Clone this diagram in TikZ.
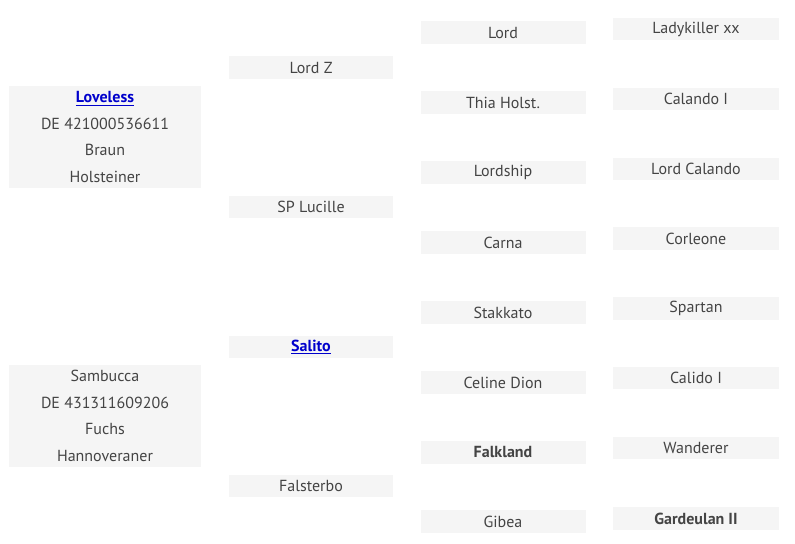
\documentclass[tikz,border=0pt]{standalone}
\usepackage{fontspec}
\setmainfont{PT Sans}
\definecolor{boxgray}{HTML}{F5F5F5}
\definecolor{txtgray}{HTML}{444444}
\definecolor{linkblue}{HTML}{0000CC}
\newcommand{\lnk}[1]{\textcolor{linkblue}{\textbf{\underline{#1}}}}
\begin{document}
\begin{tikzpicture}[x=0.75pt,y=-0.75pt,
  cell/.style={rectangle, fill=boxgray, inner sep=0pt, text=txtgray,
    font=\fontsize{12}{19.9}\selectfont, align=center},
  colA/.style={cell, minimum width=144pt, minimum height=76.5pt},
  colB/.style={cell, minimum width=123pt, minimum height=17pt},
  colC/.style={cell, minimum width=123.75pt, minimum height=17.25pt},
  colD/.style={cell, minimum width=124.5pt, minimum height=16.8pt}]
\useasboundingbox (0,0) rectangle (795,543);
% column 1
\node[colA] (a1) at (105,137) {\lnk{Loveless}\\DE 421000536611\\Braun\\Holsteiner};
\node[colA] (a2) at (105,416) {Sambucca\\DE 431311609206\\Fuchs\\Hannoveraner};
% column 2
\node[colB] (b1) at (311,67.5) {Lord Z};
\node[colB] (b2) at (311,207) {SP Lucille};
\node[colB] (b3) at (311,347) {\lnk{Salito}};
\node[colB] (b4) at (311,486) {Falsterbo};
% column 3
\node[colC] (c1) at (503,32.5) {Lord};
\node[colC] (c2) at (503,102.5) {Thia Holst.};
\node[colC] (c3) at (503,172.5) {Lordship};
\node[colC] (c4) at (503,242.5) {Carna};
\node[colC] (c5) at (503,312.5) {Stakkato};
\node[colC] (c6) at (503,382.5) {Celine Dion};
\node[colC] (c7) at (503,452.5) {\textbf{Falkland}};
\node[colC] (c8) at (503,521.5) {Gibea};
% column 4
\node[colD] (d1) at (696,29) {Ladykiller xx};
\node[colD] (d2) at (696,99) {Calando I};
\node[colD] (d3) at (696,169) {Lord Calando};
\node[colD] (d4) at (696,238.5) {Corleone};
\node[colD] (d5) at (696,308.5) {Spartan};
\node[colD] (d6) at (696,378) {Calido I};
\node[colD] (d7) at (696,448) {Wanderer};
\node[colD] (d8) at (696,518.5) {\textbf{Gardeulan II}};
\end{tikzpicture}
\end{document}
